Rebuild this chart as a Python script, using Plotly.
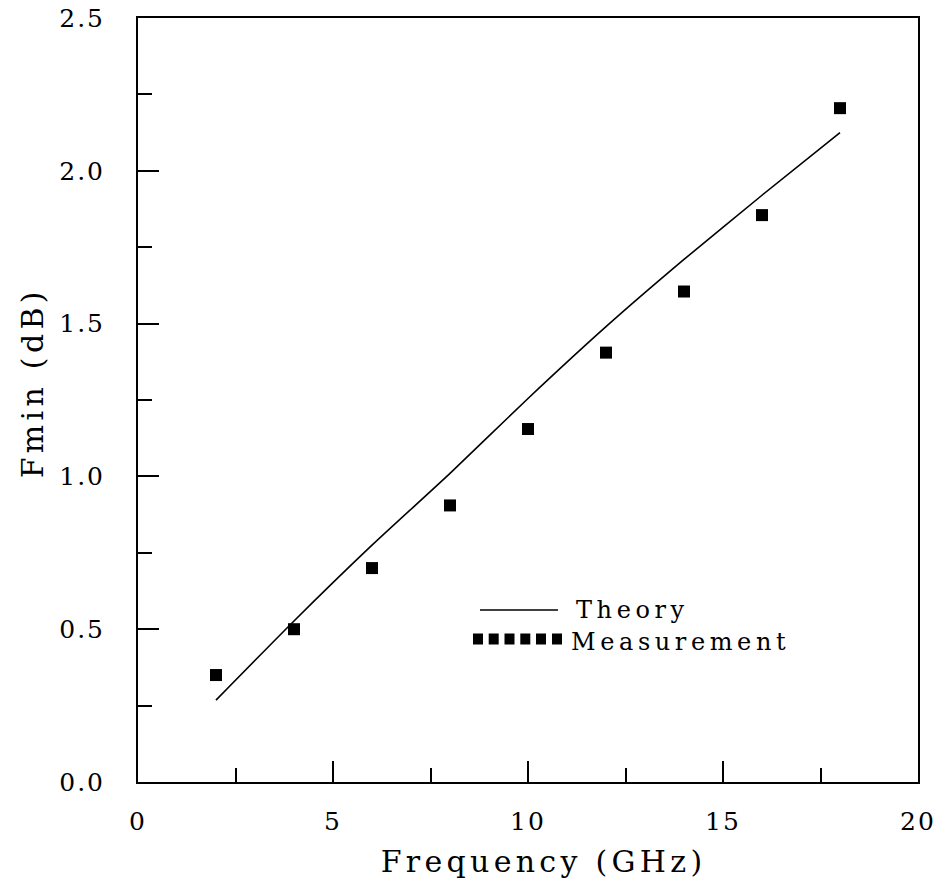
import plotly.graph_objects as go

# ---- data ----
meas_freq = [2, 4, 6, 8, 10, 12, 14, 16, 18]
meas_fmin = [0.35, 0.50, 0.70, 0.905, 1.155, 1.405, 1.605, 1.855, 2.205]

theory_freq = [2, 4, 6, 8, 10, 12, 14, 16, 18]
theory_fmin = [0.268, 0.527, 0.775, 1.01, 1.255, 1.49, 1.71, 1.92, 2.125]

x_ticks = [0, 5, 10, 15, 20]
y_ticks = [0.0, 0.5, 1.0, 1.5, 2.0, 2.5]

legend_labels = ["Theory", "Measurement"]
x_title = "Frequency (GHz)"
y_title = "Fmin (dB)"

FONT = "DejaVu Serif"

fig = go.Figure()
fig.add_trace(go.Scatter(x=theory_freq, y=theory_fmin, mode="lines",
                         line=dict(color="black", width=1.6, shape="spline",
                                   smoothing=0.6),
                         showlegend=False))
fig.add_trace(go.Scatter(x=meas_freq, y=meas_fmin, mode="markers",
                         marker=dict(symbol="square", size=12, color="black",
                                     line=dict(width=0)), showlegend=False))

axis_common = dict(showgrid=False, zeroline=False, mirror=True, showline=True,
                   linecolor="black", linewidth=2, ticks="inside", ticklen=21,
                   tickwidth=1.5, tickcolor="black", automargin=False,
                   tickfont=dict(family=FONT, size=25, color="black"))

fig.update_xaxes(range=[0, 20], tickvals=x_ticks, ticklabelstandoff=16,
                 minor=dict(ticks="inside", ticklen=14, tickwidth=1.5,
                            tickcolor="black", dtick=2.5, tick0=0),
                 **axis_common)
fig.update_yaxes(range=[0, 2.5], tickvals=y_ticks, tickformat=".1f",
                 ticklabelstandoff=26,
                 minor=dict(ticks="inside", ticklen=14, tickwidth=1.5,
                            tickcolor="black", dtick=0.25, tick0=0),
                 **axis_common)

# legend key drawn in paper coordinates
W, H = 780.0, 764.0
def px(xp):
    return (xp - 138) / W
def py(yp):
    return (782 - yp) / H

shapes = [dict(type="line", xref="paper", yref="paper",
               x0=px(480), x1=px(558), y0=py(610), y1=py(610),
               line=dict(color="black", width=1.6))]
for cx in [478, 493.7, 509.5, 525.3, 541, 557]:
    shapes.append(dict(type="rect", xref="paper", yref="paper",
                       x0=px(cx - 5), x1=px(cx + 5), y0=py(644.5), y1=py(633.5),
                       fillcolor="black", line=dict(width=0)))

annotations = [
    dict(text=x_title, xref="paper", yref="paper", x=px(543), y=py(861),
         xanchor="center", yanchor="middle", showarrow=False,
         font=dict(family=FONT, size=30, color="black")),
    dict(text=y_title, xref="paper", yref="paper", x=px(32), y=py(383),
         xanchor="center", yanchor="middle", showarrow=False, textangle=-90,
         font=dict(family=FONT, size=30, color="black")),
    dict(text=legend_labels[0], xref="paper", yref="paper", x=px(574), y=py(610),
         xanchor="left", yanchor="middle", align="left", showarrow=False,
         font=dict(family=FONT, size=24, color="black")),
    dict(text=legend_labels[1], xref="paper", yref="paper", x=px(569), y=py(642),
         xanchor="left", yanchor="middle", align="left", showarrow=False,
         font=dict(family=FONT, size=24, color="black")),
]

fig.update_layout(width=941, height=884, margin=dict(l=138, r=23, t=18, b=102),
                  plot_bgcolor="white", paper_bgcolor="white",
                  shapes=shapes, annotations=annotations, showlegend=False)

css = ("g.xtick text, g.ytick text{letter-spacing:2px;}"
       "g.annotation[data-index='0'] text, g.annotation[data-index='1'] text{letter-spacing:4.3px;}"
       "g.annotation[data-index='2'] text, g.annotation[data-index='3'] text{letter-spacing:4.6px;}")
post = ("var s=document.createElement('style');s.textContent=\"" + css +
        "\";document.head.appendChild(s);")

fig.write_html("out.html", post_script=post)
